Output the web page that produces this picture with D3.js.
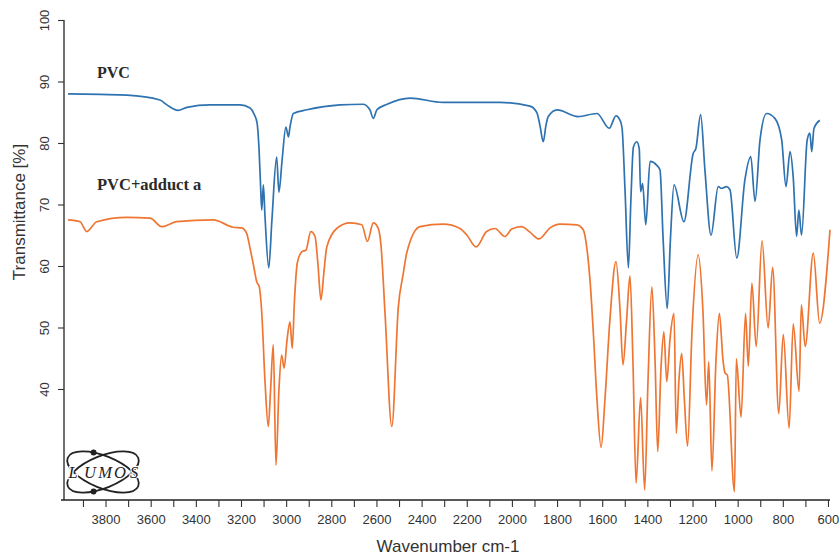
<!DOCTYPE html>
<html>
<head>
<meta charset="utf-8">
<script src="https://cdn.jsdelivr.net/npm/d3@7"></script>
<style>
  html, body { margin: 0; padding: 0; background: #fff; }
  svg { display: block; }
</style>
</head>
<body>
<div id="chart"></div>
<script>
// ---------- DATA ----------
const seriesNames = ["PVC", "PVC+adduct a"];

// PVC (blue) : wavenumber (cm-1) and transmittance (%)
const pvcWavenumber = [3966,3824,3705,3559,3528,3479,3439,3337,3204,3160,3142,3129,3120,3113,3108,3101,3094,3077,3063,3042,3032,3018,3001,2990,2983,2968,2908,2761,2660,2629,2614,2598,2553,2451,2305,2053,1920,1889,1876,1861,1849,1839,1800,1707,1623,1569,1539,1521,1512,1499,1484,1473,1462,1447,1436,1430,1421,1407,1388,1359,1344,1330,1312,1298,1282,1238,1197,1185,1164,1145,1118,1086,1071,1049,1034,1004,968,942,923,901,872,835,805,786,768,754,739,729,717,692,680,672,662,636];
const pvcTransmittance = [88.0,87.9,87.8,87.0,86.2,85.3,85.8,86.2,86.2,85.7,84.7,83.3,78.9,72.8,69.1,73.2,68.3,59.7,67.5,77.7,72.0,77.2,82.6,81.0,82.6,84.8,85.4,86.2,86.3,85.4,84.0,85.4,86.3,87.3,86.6,86.6,86.0,84.9,82.9,80.2,82.9,84.3,85.4,84.3,84.8,82.4,84.4,83.7,82.4,72.4,59.7,70.7,79.3,80.2,79.1,72.1,73.4,66.7,77.0,76.4,75.6,64.2,53.1,64.2,73.2,67.2,78.3,79.1,84.6,75.6,65.0,72.9,72.6,72.9,72.4,61.3,74.0,77.8,70.5,80.5,84.8,84.0,80.5,72.9,78.6,74.5,64.8,69.1,65.0,80.5,81.6,78.6,82.4,83.7];

// PVC + adduct a (orange)
const adductWavenumber = [3966,3913,3883,3839,3706,3603,3551,3485,3323,3234,3197,3175,3160,3145,3130,3119,3108,3094,3079,3069,3057,3045,3032,3020,3009,2996,2983,2973,2963,2951,2931,2912,2891,2872,2859,2846,2832,2820,2776,2717,2665,2640,2614,2593,2580,2562,2532,2503,2481,2466,2407,2304,2230,2199,2159,2112,2075,2031,2001,1957,1920,1880,1831,1787,1713,1684,1667,1654,1640,1623,1605,1588,1566,1539,1521,1508,1492,1477,1464,1450,1430,1412,1397,1380,1366,1354,1340,1327,1314,1300,1282,1272,1260,1248,1236,1222,1202,1175,1154,1138,1128,1114,1096,1081,1065,1056,1046,1014,1006,985,965,953,937,918,892,865,845,818,798,772,754,728,718,701,665,637,591];
const adductTransmittance = [67.5,67.2,65.6,67.2,67.9,67.8,66.4,67.2,67.5,66.3,66.2,65.3,62.9,60.2,57.4,56.6,52.4,41.5,33.9,39.8,47.2,27.6,39.8,45.5,43.4,48.0,50.9,46.6,54.5,60.4,62.3,62.6,65.6,64.8,60.2,54.5,59.3,63.1,66.1,67.0,66.7,64.0,67.0,66.2,63.4,52.3,33.9,53.4,58.8,62.1,66.4,66.8,66.1,65.0,63.1,65.6,66.1,64.8,66.0,66.4,65.5,64.4,66.2,66.8,66.7,65.9,62.6,57.7,49.6,38.2,30.5,38.2,51.2,60.7,52.8,43.9,51.2,58.4,44.7,24.7,38.6,23.6,41.5,56.6,44.7,29.8,43.1,49.3,41.2,48.0,52.3,32.8,41.5,45.8,38.2,30.7,49.6,61.8,52.8,37.4,44.4,26.7,44.7,52.3,44.7,42.6,42.3,23.3,44.9,35.4,52.3,43.7,57.2,46.9,64.1,49.9,59.8,36.0,48.9,33.6,50.6,39.6,53.7,46.9,62.1,50.7,65.9];

// Axis ticks
const xMinorTicks = [3900,3800,3700,3600,3500,3400,3300,3200,3100,3000,2900,2800,2700,2600,2500,2400,2300,2200,2100,2000,1900,1800,1700,1600,1500,1400,1300,1200,1100,1000,900,800,700,600];
const xTickLabels = [3800,3600,3400,3200,3000,2800,2600,2400,2200,2000,1800,1600,1400,1200,1000,800,600];
const yTickLabels = [100,90,80,70,60,50,40];
const xTitle = "Wavenumber cm-1";
const yTitle = "Transmittance [%]";
const logoLetters = ["L","U","M","O","S"];

// ---------- CHART ----------
const W = 839, H = 555;
const svg = d3.select("#chart").append("svg").attr("width", W).attr("height", H);

const x = d3.scaleLinear().domain([3984, 591]).range([64, 830]);
const y = d3.scaleLinear().domain([21.95, 100]).range([500, 20]);

const fontSans = "'Liberation Sans', Arial, sans-serif";
const fontSerif = "'Liberation Serif', 'Times New Roman', serif";

// X axis
const xAxis = d3.axisBottom(x)
  .tickValues(xMinorTicks)
  .tickSize(7)
  .tickPadding(8)
  .tickFormat(d => xTickLabels.includes(d) ? String(d) : "");
const gx = svg.append("g").attr("transform", "translate(0,500)").call(xAxis);
gx.select(".domain").attr("d", "M61,0H830").attr("stroke", "#222").attr("stroke-width", 1.3);
gx.selectAll(".tick line").attr("stroke", "#333").attr("stroke-width", 1.1);
gx.selectAll(".tick text").attr("font-family", fontSans).attr("font-size", 13).attr("fill", "#333");

// Y axis
const yAxis = d3.axisLeft(y).tickValues(yTickLabels).tickSize(6).tickFormat(d => String(d));
const gy = svg.append("g").attr("transform", "translate(64,0)").call(yAxis);
gy.select(".domain").attr("d", "M0," + y(100) + "V500").attr("stroke", "#222").attr("stroke-width", 1.3);
gy.selectAll(".tick line").attr("stroke", "#333").attr("stroke-width", 1.1);
gy.selectAll(".tick text")
  .attr("font-family", fontSans).attr("font-size", 13).attr("fill", "#333")
  .attr("transform", "rotate(-90)")
  .attr("x", 0).attr("y", -15).attr("dy", 0)
  .attr("text-anchor", "middle");

// Axis titles
svg.append("text")
  .attr("x", 448).attr("y", 552)
  .attr("text-anchor", "middle")
  .attr("font-family", fontSans).attr("font-size", 17).attr("fill", "#333")
  .text(xTitle);
svg.append("text")
  .attr("transform", "translate(25,212) rotate(-90)")
  .attr("text-anchor", "middle")
  .attr("font-family", fontSans).attr("font-size", 17).attr("fill", "#333")
  .text(yTitle);

// Lines
const line = d3.line()
  .x(d => x(d[0]))
  .y(d => y(d[1]))
  .curve(d3.curveMonotoneX);

const pvcData = pvcWavenumber.map((w, i) => [w, pvcTransmittance[i]]);
const adductData = adductWavenumber.map((w, i) => [w, adductTransmittance[i]]);

svg.append("path").datum(adductData)
  .attr("d", line).attr("fill", "none")
  .attr("stroke", "#ef7632").attr("stroke-width", 1.7).attr("stroke-linejoin", "round");
svg.append("path").datum(pvcData)
  .attr("d", line).attr("fill", "none")
  .attr("stroke", "#2f72b0").attr("stroke-width", 1.7).attr("stroke-linejoin", "round");

// Series labels
svg.append("text")
  .attr("x", 97).attr("y", 78)
  .attr("font-family", fontSerif).attr("font-weight", "bold").attr("font-size", 16).attr("fill", "#2a2a2a")
  .text(seriesNames[0]);
svg.append("text")
  .attr("x", 97).attr("y", 190)
  .attr("font-family", fontSerif).attr("font-weight", "bold").attr("font-size", 16.5).attr("fill", "#2a2a2a")
  .text(seriesNames[1]);

// LUMOS logo
const logo = svg.append("g").attr("transform", "translate(103,472)");
[22, -22].forEach(a => {
  logo.append("ellipse")
    .attr("cx", 0).attr("cy", 0).attr("rx", 38).attr("ry", 16)
    .attr("transform", "rotate(" + a + ")")
    .attr("fill", "none").attr("stroke", "#222").attr("stroke-width", 1.8);
});
function ellPt(a, t) {
  const rad = a * Math.PI / 180, tt = t * Math.PI / 180;
  const px = 38 * Math.cos(tt), py = 16 * Math.sin(tt);
  return [px * Math.cos(rad) - py * Math.sin(rad), px * Math.sin(rad) + py * Math.cos(rad)];
}
[[22, -115], [-22, 115]].forEach(([a, t]) => {
  const p = ellPt(a, t);
  logo.append("circle").attr("cx", p[0]).attr("cy", p[1]).attr("r", 3).attr("fill", "#222");
});
const letterX = [-30, -13, 2, 17, 31];
logo.selectAll("text.logo").data(logoLetters).enter().append("text")
  .attr("class", "logo")
  .attr("x", (d, i) => letterX[i]).attr("y", 6)
  .attr("text-anchor", "middle")
  .attr("font-family", fontSerif).attr("font-style", "italic").attr("font-size", 16.5).attr("fill", "#222")
  .attr("stroke", "#fff").attr("stroke-width", 2.5).attr("paint-order", "stroke")
  .text(d => d);
</script>
</body>
</html>
